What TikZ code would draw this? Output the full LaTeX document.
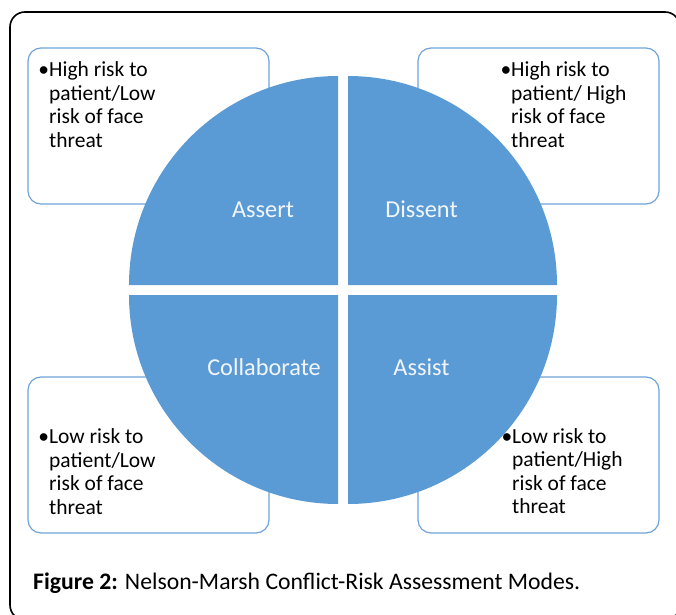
\documentclass[tikz,border=0pt]{standalone}
\usepackage{fontspec}
\setmainfont{Carlito}
\definecolor{modeblue}{HTML}{5B9BD5}
\definecolor{noteline}{HTML}{6FA3D9}
\definecolor{labelwhite}{HTML}{F2F6FB}
\tikzstyle{frame}=[draw=black, line width=1.6pt, rounded corners=15pt]
\tikzstyle{note box}=[draw=noteline, line width=1.2pt, rounded corners=13pt, minimum width=241pt, minimum height=156pt, inner sep=0]
\tikzstyle{note text}=[anchor=base west, inner sep=0, align=left, font=\fontsize{21.5}{23.5}\selectfont]
\tikzstyle{quadrant}=[fill=modeblue]
\tikzstyle{mode label}=[anchor=base, inner sep=0, text=labelwhite, font=\fontsize{24.3}{28}\selectfont]
\tikzstyle{caption}=[anchor=base west, inner sep=0, font=\fontsize{23.7}{28}\selectfont]

\begin{document}
\begin{tikzpicture}[x=1pt, y=1pt]
      \useasboundingbox (0,0) rectangle (676,614);
      \draw[frame] (10,-6) rectangle (680,602);

      \node[note box] (assert_note) at (148.5, 488) {};
      \node[note box] (dissent_note) at (538.5, 488) {};
      \node[note box] (collab_note) at (148.5, 159) {};
      \node[note box] (assist_note) at (538.5, 159) {};

      \fill[quadrant] (338,329) -- (129,329) arc[start angle=180, end angle=90, radius=209] -- cycle;
      \fill[quadrant] (348,329) -- (557,329) arc[start angle=0, end angle=90, radius=209] -- cycle;
      \fill[quadrant] (338,319) -- (129,319) arc[start angle=180, end angle=270, radius=209] -- cycle;
      \fill[quadrant] (348,319) -- (557,319) arc[start angle=0, end angle=-90, radius=209] -- cycle;

      \node[mode label] (assert) at (263, 397) {Assert};
      \node[mode label] (dissent) at (421.5, 397) {Dissent};
      \node[mode label] (collab) at (264, 239) {Collaborate};
      \node[mode label] (assist) at (421.5, 239) {Assist};

      % anchored at the baseline of the last line
      \node[note text] (assert_text) at (49, 466.5) {\llap{\textbullet}High risk to\\patient/Low\\risk of face\\threat};
      \node[note text] (dissent_text) at (511, 466.5) {\llap{\textbullet}High risk to\\patient/ High\\risk of face\\threat};
      \node[note text] (collab_text) at (49, 100) {\llap{\textbullet}Low risk to\\patient/Low\\risk of face\\threat};
      \node[note text] (assist_text) at (512, 100.5) {\llap{\textbullet}Low risk to\\patient/High\\risk of face\\threat};

      \node[caption] (fig_caption) at (33, 25) {\textbf{Figure 2:} Nelson-Marsh Conflict-Risk Assessment Modes.};
    \end{tikzpicture}
\end{document}
